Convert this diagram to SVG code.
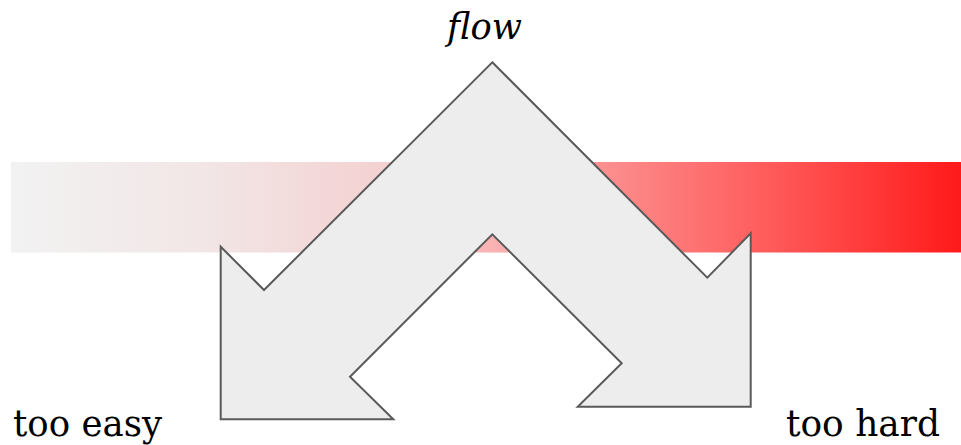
<svg xmlns="http://www.w3.org/2000/svg" width="961" height="445" viewBox="0 0 961 445">
  <defs>
    <linearGradient id="difficulty" x1="11" y1="0" x2="961" y2="0" gradientUnits="userSpaceOnUse">
      <stop offset="0" stop-color="#f2f2f2"/>
      <stop offset="0.2" stop-color="#f2e6e6"/>
      <stop offset="0.4" stop-color="#f4d0d1"/>
      <stop offset="0.5" stop-color="#f9b4b4"/>
      <stop offset="0.62" stop-color="#fc9090"/>
      <stop offset="0.8" stop-color="#ff5a5a"/>
      <stop offset="1" stop-color="#ff1a1a"/>
    </linearGradient>
    <style>
      .label { font-family: "DejaVu Serif", "Liberation Serif", serif; font-size: 38px; fill: #000; }
      .chevron { fill: #ededed; stroke: #5a5a5a; stroke-width: 2; stroke-linejoin: miter; }
    </style>
  </defs>

  <!-- difficulty band -->
  <g id="band">
    <rect x="11" y="162" width="950" height="90.5" fill="url(#difficulty)"/>
  </g>

  <!-- bent double arrow -->
  <g id="flow-arrow">
    <path class="chevron" d="M492.3,62.3 L707.3,277.7 L750.7,233.3 L750.7,406.7 L577.7,406.7 L621.7,363.3 L492.3,234.3 L350,376.7 L393.3,419.3 L220.7,419.3 L220.7,246.7 L264,290 Z"/>
  </g>

  <g id="label-flow">
    <text class="label" x="484.5" y="39" text-anchor="middle" font-style="italic" textLength="75" lengthAdjust="spacingAndGlyphs">flow</text>
  </g>
  <g id="label-easy">
    <text class="label" x="13" y="436" textLength="149" lengthAdjust="spacingAndGlyphs">too easy</text>
  </g>
  <g id="label-hard">
    <text class="label" x="786" y="436" textLength="154" lengthAdjust="spacingAndGlyphs">too hard</text>
  </g>
</svg>
